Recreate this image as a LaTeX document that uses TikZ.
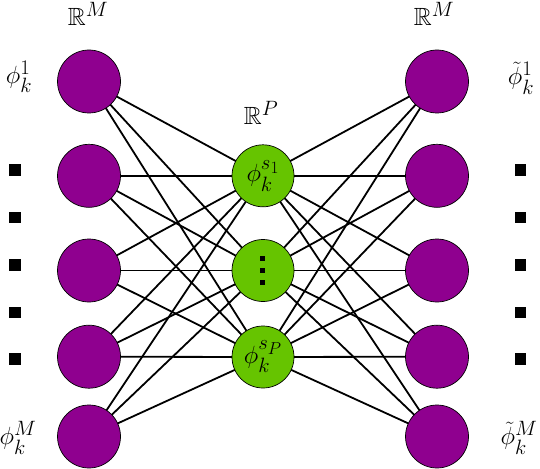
\RequirePackage{fix-cm}
\documentclass[tikz,border=0pt]{standalone}
\usepackage{amsmath,amssymb}
\definecolor{nodepurple}{RGB}{143,0,143}
\definecolor{nodegreen}{RGB}{102,196,0}
\newcommand{\bigfnt}{\fontsize{24.88}{28}\selectfont}
\tikzset{
  pnode/.style={circle,draw=black,line width=0.7pt,fill=nodepurple,minimum size=63pt,inner sep=0pt},
  gnode/.style={circle,draw=black,line width=0.7pt,fill=nodegreen,minimum size=62pt,inner sep=0pt,font=\bigfnt},
  conn/.style={line width=1.8pt,black},
  lbl/.style={inner sep=0pt,font=\bigfnt},
  bigdot/.style={rectangle,fill=black,minimum size=11.5pt,inner sep=0pt},
  smalldot/.style={rectangle,fill=black,minimum size=5pt,inner sep=0pt}
}
\begin{document}
\begin{tikzpicture}[x=1pt,y=-1pt]
\useasboundingbox (0,0) rectangle (540,468);
% node positions (named, drawn later on top)
\foreach \i/\y in {1/81.5,2/175.8,3/270.5,4/356.7,5/436.5}{
  \coordinate (L\i) at (89,\y);
  \coordinate (R\i) at (437,\y);
}
\coordinate (G1) at (263,175.8);
\coordinate (G2) at (263,270.5);
\coordinate (G3) at (263,357);
% edges
\foreach \i in {1,...,5}{
  \foreach \j in {1,2,3}{
    \draw[conn] (L\i) -- (G\j);
    \draw[conn] (G\j) -- (R\i);
  }
}
% nodes on top
\foreach \i in {1,...,5}{
  \node[pnode] (nL\i) at (L\i) {};
  \node[pnode] (nR\i) at (R\i) {};
}
\node[gnode] (nG1) at (G1) {$\phi_k^{s_1}$};
\node[gnode] (nG2) at (G2) {};
\node[gnode] (nG3) at (G3) {$\phi_k^{s_P}$};
\node[smalldot] (d1) at (262,258) {};
\node[smalldot] (d2) at (262,270) {};
\node[smalldot] (d3) at (262,282) {};
% side squares
\foreach \k/\y in {1/170,2/217.5,3/265,4/312.5,5/359}{
  \node[bigdot] (ls\k) at (15,\y) {};
  \node[bigdot] (rs\k) at (520.5,\y) {};
}
% labels
\node[lbl] (tRM1) at (88,14) {$\mathbb{R}^M$};
\node[lbl] (tRM2) at (434,14) {$\mathbb{R}^M$};
\node[lbl] (tRP) at (261,113) {$\mathbb{R}^P$};
\node[lbl] (phi1) at (19,77) {$\phi_k^1$};
\node[lbl] (phiM) at (18,438) {$\phi_k^M$};
\node[lbl] (tphi1) at (521,78) {$\tilde{\phi}_k^1$};
\node[lbl] (tphiM) at (519,438) {$\tilde{\phi}_k^M$};
\end{tikzpicture}
\end{document}
